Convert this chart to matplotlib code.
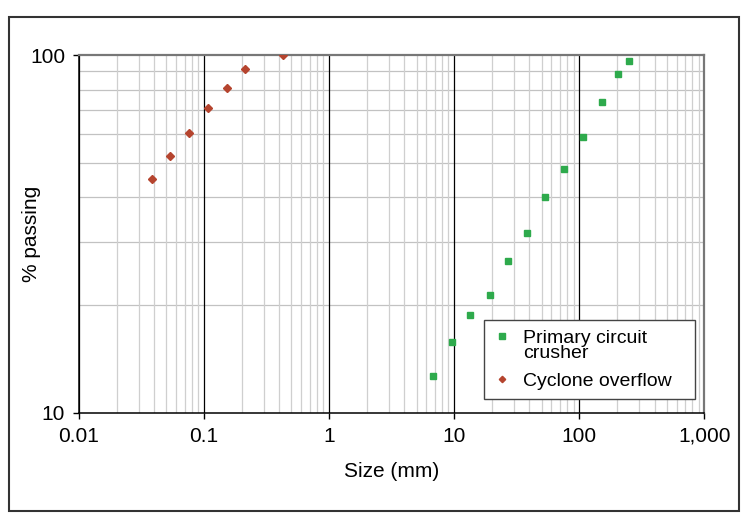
import matplotlib
matplotlib.use("Agg")
import numpy as np
import matplotlib.pyplot as plt
from matplotlib.patches import Rectangle
from matplotlib.ticker import FixedLocator, LogLocator, NullFormatter, FixedFormatter

plt.rcParams['font.family'] = ['Liberation Sans', 'DejaVu Sans']

# Data
crusher_size = [252, 205, 153, 107, 76, 53.5, 38, 27, 19.2, 13.4, 9.6, 6.75]
crusher_pass = [96.4, 88.7, 74.0, 59.0, 48.1, 40.0, 31.8, 26.6, 21.3, 18.8, 15.8, 12.7]
cyclone_size = [0.0384, 0.0535, 0.0759, 0.107, 0.152, 0.214, 0.429]
cyclone_pass = [45.0, 52.1, 60.5, 71.1, 81.0, 91.4, 100.0]
x_ticks = [0.01, 0.1, 1, 10, 100, 1000]
x_tick_labels = ['0.01', '0.1', '1', '10', '100', '1,000']
y_ticks = [10, 100]
y_tick_labels = ['10', '100']

fig = plt.figure(figsize=(7.52, 5.2), dpi=100)
ax = fig.add_axes([79/752, 1-412.7/520, 625.3/752, 357.7/520])

# outer frame
fig.patches.append(Rectangle((9/752, 1-511/520), 730/752, 494/520,
                             transform=fig.transFigure, fill=False,
                             edgecolor='#333333', linewidth=1.5))

ax.plot(crusher_size, crusher_pass, linestyle='none', marker='s', markersize=4.6,
        color='#2eaa4c', label='Primary circuit\ncrusher', zorder=3)
ax.plot(cyclone_size, cyclone_pass, linestyle='none', marker='D', markersize=3.6,
        color='#b5442e', label='Cyclone overflow', zorder=3)

ax.set_xscale('log')
ax.set_yscale('log')
ax.set_xlim(0.01, 1000)
ax.set_ylim(10, 100)

ax.xaxis.set_major_locator(FixedLocator(x_ticks))
ax.xaxis.set_major_formatter(FixedFormatter(x_tick_labels))
ax.xaxis.set_minor_locator(LogLocator(base=10, subs=range(2, 10), numticks=100))
ax.xaxis.set_minor_formatter(NullFormatter())
ax.yaxis.set_major_locator(FixedLocator(y_ticks))
ax.yaxis.set_major_formatter(FixedFormatter(y_tick_labels))
ax.yaxis.set_minor_locator(LogLocator(base=10, subs=range(2, 10), numticks=100))
ax.yaxis.set_minor_formatter(NullFormatter())

ax.set_axisbelow(True)
ax.grid(True, which='major', axis='x', color='black', linewidth=0.9)
ax.grid(True, which='minor', axis='x', color='#cfcfcf', linewidth=0.9)
ax.grid(True, which='minor', axis='y', color='#c2c2c2', linewidth=0.9)
ax.xaxis.set_zorder(0.6)
ax.yaxis.set_zorder(0.5)

ax.tick_params(which='major', length=4, width=1, labelsize=15, pad=6, color='black')
ax.tick_params(which='minor', length=0)

for s in ['left', 'bottom']:
    ax.spines[s].set_color('black')
    ax.spines[s].set_linewidth(1.1)
for s in ['top', 'right']:
    ax.spines[s].set_color('#777777')
    ax.spines[s].set_linewidth(1.6)

ax.set_xlabel('Size (mm)', fontsize=15)
ax.xaxis.set_label_coords(0.5, (412.7-462)/357.7)
ax.xaxis.label.set_va('top')
ax.set_ylabel('% passing', fontsize=15)
ax.yaxis.set_label_coords((41-79)/625.3, 0.5)

leg = ax.legend(loc='lower left', bbox_to_anchor=(0.648, 0.0375, 0.3376, 0.229),
                mode='expand', fontsize=14, frameon=True, fancybox=False,
                edgecolor='#444444', framealpha=1, handlelength=0.8,
                handletextpad=0.7, borderpad=0.5, labelspacing=0.5,
                borderaxespad=0, markerscale=0.9)
leg.get_frame().set_linewidth(1.0)
for t in leg.get_texts():
    t.set_linespacing(0.85)
# put the first legend marker on the first text line
h0 = leg.legend_handles[0]
h0.set_ydata(np.asarray(h0.get_ydata()) + 7.0)

fig.savefig('out.png', dpi=100)
